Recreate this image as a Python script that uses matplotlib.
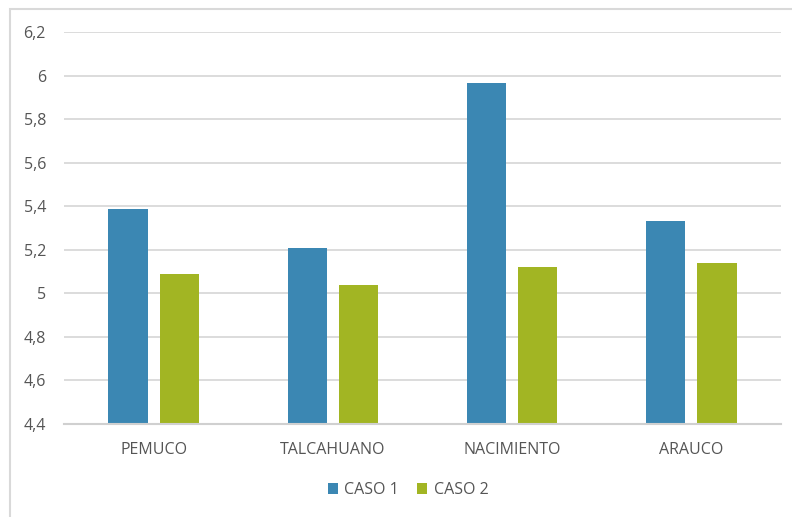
import matplotlib
matplotlib.use("Agg")
import matplotlib.pyplot as plt
from matplotlib.patches import Rectangle
import numpy as np

categories = ["PEMUCO", "TALCAHUANO", "NACIMIENTO", "ARAUCO"]
caso1 = [5.386, 5.21, 5.966, 5.33]
caso2 = [5.088, 5.04, 5.12, 5.137]
series_names = ["CASO 1", "CASO 2"]
yticks = [4.4, 4.6, 4.8, 5.0, 5.2, 5.4, 5.6, 5.8, 6.0, 6.2]
ytick_labels = ["4,4", "4,6", "4,8", "5", "5,2", "5,4", "5,6", "5,8", "6", "6,2"]

plt.rcParams['font.family'] = ['Open Sans', 'DejaVu Sans']
txt = "#555555"
blue = "#3B87B3"
green = "#A2B523"
fs = 11.5

fig = plt.figure(figsize=(7.92, 5.17), dpi=100)
W, H = 792, 517
ax = fig.add_axes([64 / W, 1 - 424 / H, (781 - 64) / W, (424 - 32) / H])

x = np.arange(len(categories))
bw = 0.218
off = 0.143
ax.bar(x - off, caso1, bw, color=blue, label=series_names[0], zorder=3)
ax.bar(x + off, caso2, bw, color=green, label=series_names[1], zorder=3)

ax.set_xlim(-0.5, len(categories) - 0.5)
ax.set_ylim(4.4, 6.2)
ax.set_yticks(yticks)
ax.set_yticklabels(ytick_labels, color=txt, fontsize=fs)
ax.set_xticks(x)
ax.set_xticklabels(categories, color=txt, fontsize=fs)
ax.tick_params(axis='both', length=0)
ax.tick_params(axis='y', pad=13)
ax.tick_params(axis='x', pad=13)
ax.grid(axis='y', color="#d9d9d9", lw=1.3, zorder=0)
for s in ["top", "right", "left"]:
    ax.spines[s].set_visible(False)
ax.spines["bottom"].set_color("#d0d0d0")
ax.spines["bottom"].set_linewidth(1.5)
ax.spines["bottom"].set_zorder(4)

# chart area border
fig.patches.append(Rectangle((10 / W, -0.1), 1.1, 1 - 9 / H + 0.1, transform=fig.transFigure,
                             fill=False, edgecolor="#d9d9d9", lw=1.5))

leg = fig.legend(loc="center", bbox_to_anchor=(408 / W, 1 - 490 / H), ncol=2, frameon=False,
                 handlelength=0.65, handleheight=0.65, handletextpad=0.4, columnspacing=1.1,
                 fontsize=fs)
for t in leg.get_texts():
    t.set_color(txt)

fig.savefig("out.png", dpi=100)
